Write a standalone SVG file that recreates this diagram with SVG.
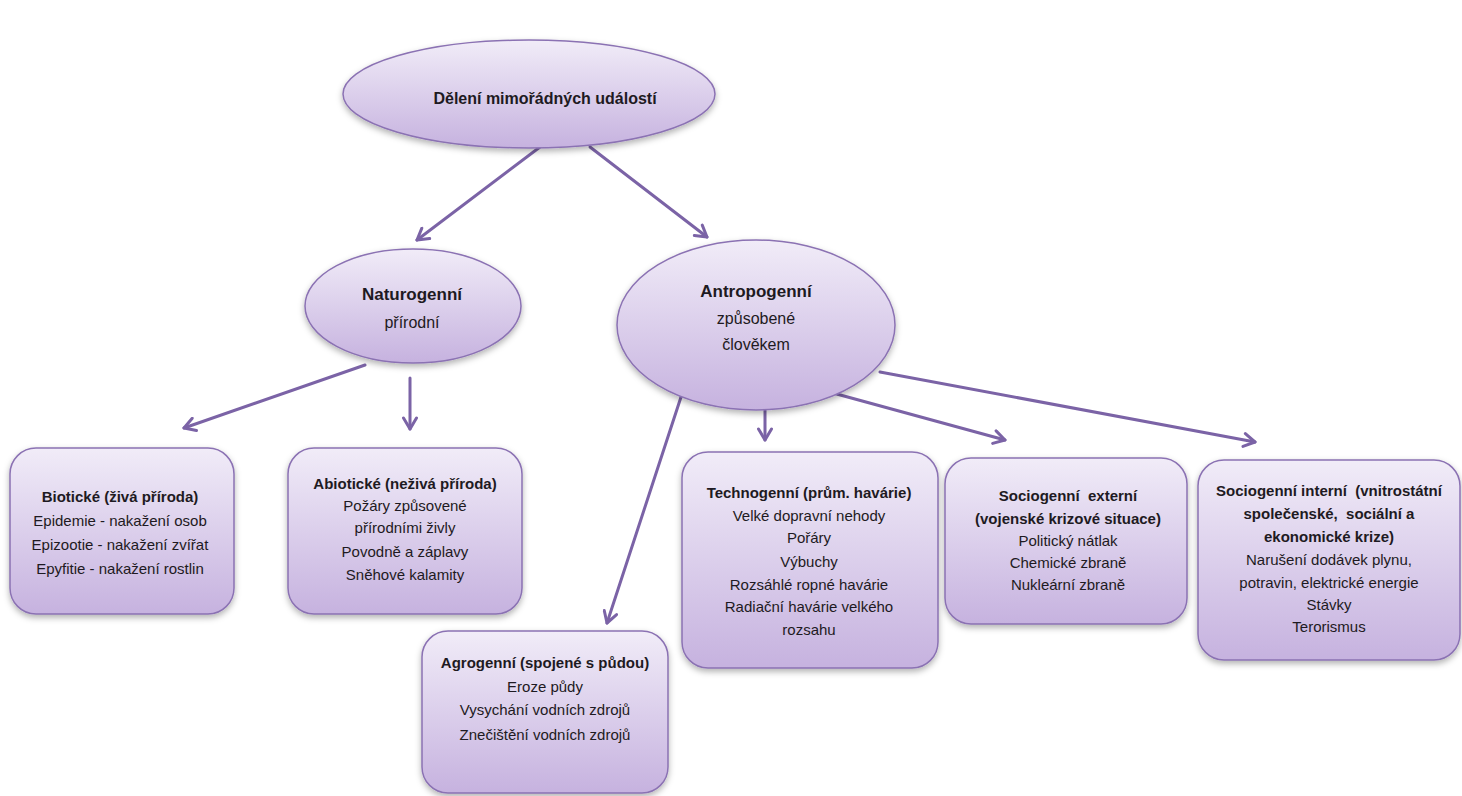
<svg xmlns="http://www.w3.org/2000/svg" width="1462" height="796" viewBox="0 0 1462 796">
  <defs>
    <linearGradient id="fillGrad" x1="0" y1="0" x2="0" y2="1">
      <stop offset="0" stop-color="#F1ECF8"/>
      <stop offset="1" stop-color="#C6B2DF"/>
    </linearGradient>
    <filter id="shadow" x="-10%" y="-10%" width="120%" height="130%">
      <feDropShadow dx="0" dy="3" stdDeviation="3" flood-color="#000" flood-opacity="0.3"/>
    </filter>
    <marker id="arrow" viewBox="0 0 16 16" refX="13" refY="8" markerWidth="16" markerHeight="16" markerUnits="userSpaceOnUse" orient="auto">
      <path d="M2,1.5 L13,8 L2,14.5" fill="none" stroke="#7B63A6" stroke-width="3" stroke-linecap="round" stroke-linejoin="round"/>
    </marker>
    <style>
      .shape { fill: url(#fillGrad); stroke: #8B72B3; stroke-width: 1.5; filter: url(#shadow); }
      .t { font-family: "Liberation Sans", Arial, sans-serif; font-size: 15px; fill: #1E1A22; text-anchor: middle; }
      .b { font-weight: bold; }
      .big { font-size: 16px; }
      .ell { font-size: 17px; }
      .conn { stroke: #7B63A6; stroke-width: 3; fill: none; stroke-linecap: round; marker-end: url(#arrow); }
    </style>
  </defs>

  <g id="connectors">
    <line class="conn" x1="540" y1="147" x2="417" y2="240"/>
    <line class="conn" x1="590" y1="147" x2="707" y2="237"/>
    <line class="conn" x1="365" y1="365" x2="184" y2="428"/>
    <line class="conn" x1="410" y1="378" x2="410" y2="429"/>
    <line class="conn" x1="681" y1="397" x2="607" y2="623"/>
    <line class="conn" x1="765" y1="404" x2="765" y2="440"/>
    <line class="conn" x1="822" y1="390" x2="1005" y2="440"/>
    <line class="conn" x1="880" y1="372" x2="1255" y2="442"/>
  </g>

  <g id="root">
    <ellipse class="shape" cx="529" cy="94" rx="186" ry="54"/>
    <text class="t b big" x="545" y="104">Dělení mimořádných událostí</text>
  </g>

  <g id="naturogenni">
    <ellipse class="shape" cx="413" cy="306" rx="108" ry="57"/>
    <text class="t b ell" x="412" y="300">Naturogenní</text>
    <text class="t big" x="412" y="328">přírodní</text>
  </g>

  <g id="antropogenni">
    <ellipse class="shape" cx="756" cy="325" rx="139" ry="85"/>
    <text class="t b ell" x="756" y="297">Antropogenní</text>
    <text class="t big" x="756" y="324">způsobené</text>
    <text class="t big" x="756" y="350">člověkem</text>
  </g>

  <g id="bioticke">
    <rect class="shape" x="10" y="448" width="224" height="166" rx="26"/>
    <text class="t b" x="120" y="502">Biotické (živá příroda)</text>
    <text class="t" x="120" y="526">Epidemie - nakažení osob</text>
    <text class="t" x="120" y="550">Epizootie - nakažení zvířat</text>
    <text class="t" x="120" y="574">Epyfitie - nakažení rostlin</text>
  </g>

  <g id="abioticke">
    <rect class="shape" x="288" y="448" width="234" height="166" rx="26"/>
    <text class="t b" x="405" y="489">Abiotické (neživá příroda)</text>
    <text class="t" x="405" y="511">Požáry způsovené</text>
    <text class="t" x="405" y="533">přírodními živly</text>
    <text class="t" x="405" y="557">Povodně a záplavy</text>
    <text class="t" x="405" y="580">Sněhové kalamity</text>
  </g>

  <g id="agrogenni">
    <rect class="shape" x="422" y="631" width="246" height="162" rx="26"/>
    <text class="t b" x="545" y="668">Agrogenní (spojené s půdou)</text>
    <text class="t" x="545" y="692">Eroze půdy</text>
    <text class="t" x="545" y="715">Vysychání vodních zdrojů</text>
    <text class="t" x="545" y="740">Znečištění vodních zdrojů</text>
  </g>

  <g id="technogenni">
    <rect class="shape" x="682" y="452" width="256" height="216" rx="26"/>
    <text class="t b" x="809" y="498">Technogenní (prům. havárie)</text>
    <text class="t" x="809" y="521">Velké dopravní nehody</text>
    <text class="t" x="809" y="543">Pořáry</text>
    <text class="t" x="809" y="567">Výbuchy</text>
    <text class="t" x="809" y="590">Rozsáhlé ropné havárie</text>
    <text class="t" x="809" y="612">Radiační havárie velkého</text>
    <text class="t" x="809" y="635">rozsahu</text>
  </g>

  <g id="sociogenni-externi">
    <rect class="shape" x="945" y="458" width="242" height="166" rx="26"/>
    <text class="t b" x="1068" y="501">Sociogenní&#160; externí</text>
    <text class="t b" x="1068" y="524">(vojenské krizové situace)</text>
    <text class="t" x="1068" y="546">Politický nátlak</text>
    <text class="t" x="1068" y="568">Chemické zbraně</text>
    <text class="t" x="1068" y="590">Nukleární zbraně</text>
  </g>

  <g id="sociogenni-interni">
    <rect class="shape" x="1198" y="460" width="262" height="200" rx="26"/>
    <text class="t b" x="1329" y="496">Sociogenní interní&#160; (vnitrostátní</text>
    <text class="t b" x="1329" y="519">společenské,&#160; sociální a</text>
    <text class="t b" x="1329" y="542">ekonomické krize)</text>
    <text class="t" x="1329" y="565">Narušení dodávek plynu,</text>
    <text class="t" x="1329" y="588">potravin, elektrické energie</text>
    <text class="t" x="1329" y="610">Stávky</text>
    <text class="t" x="1329" y="632">Terorismus</text>
  </g>
</svg>
